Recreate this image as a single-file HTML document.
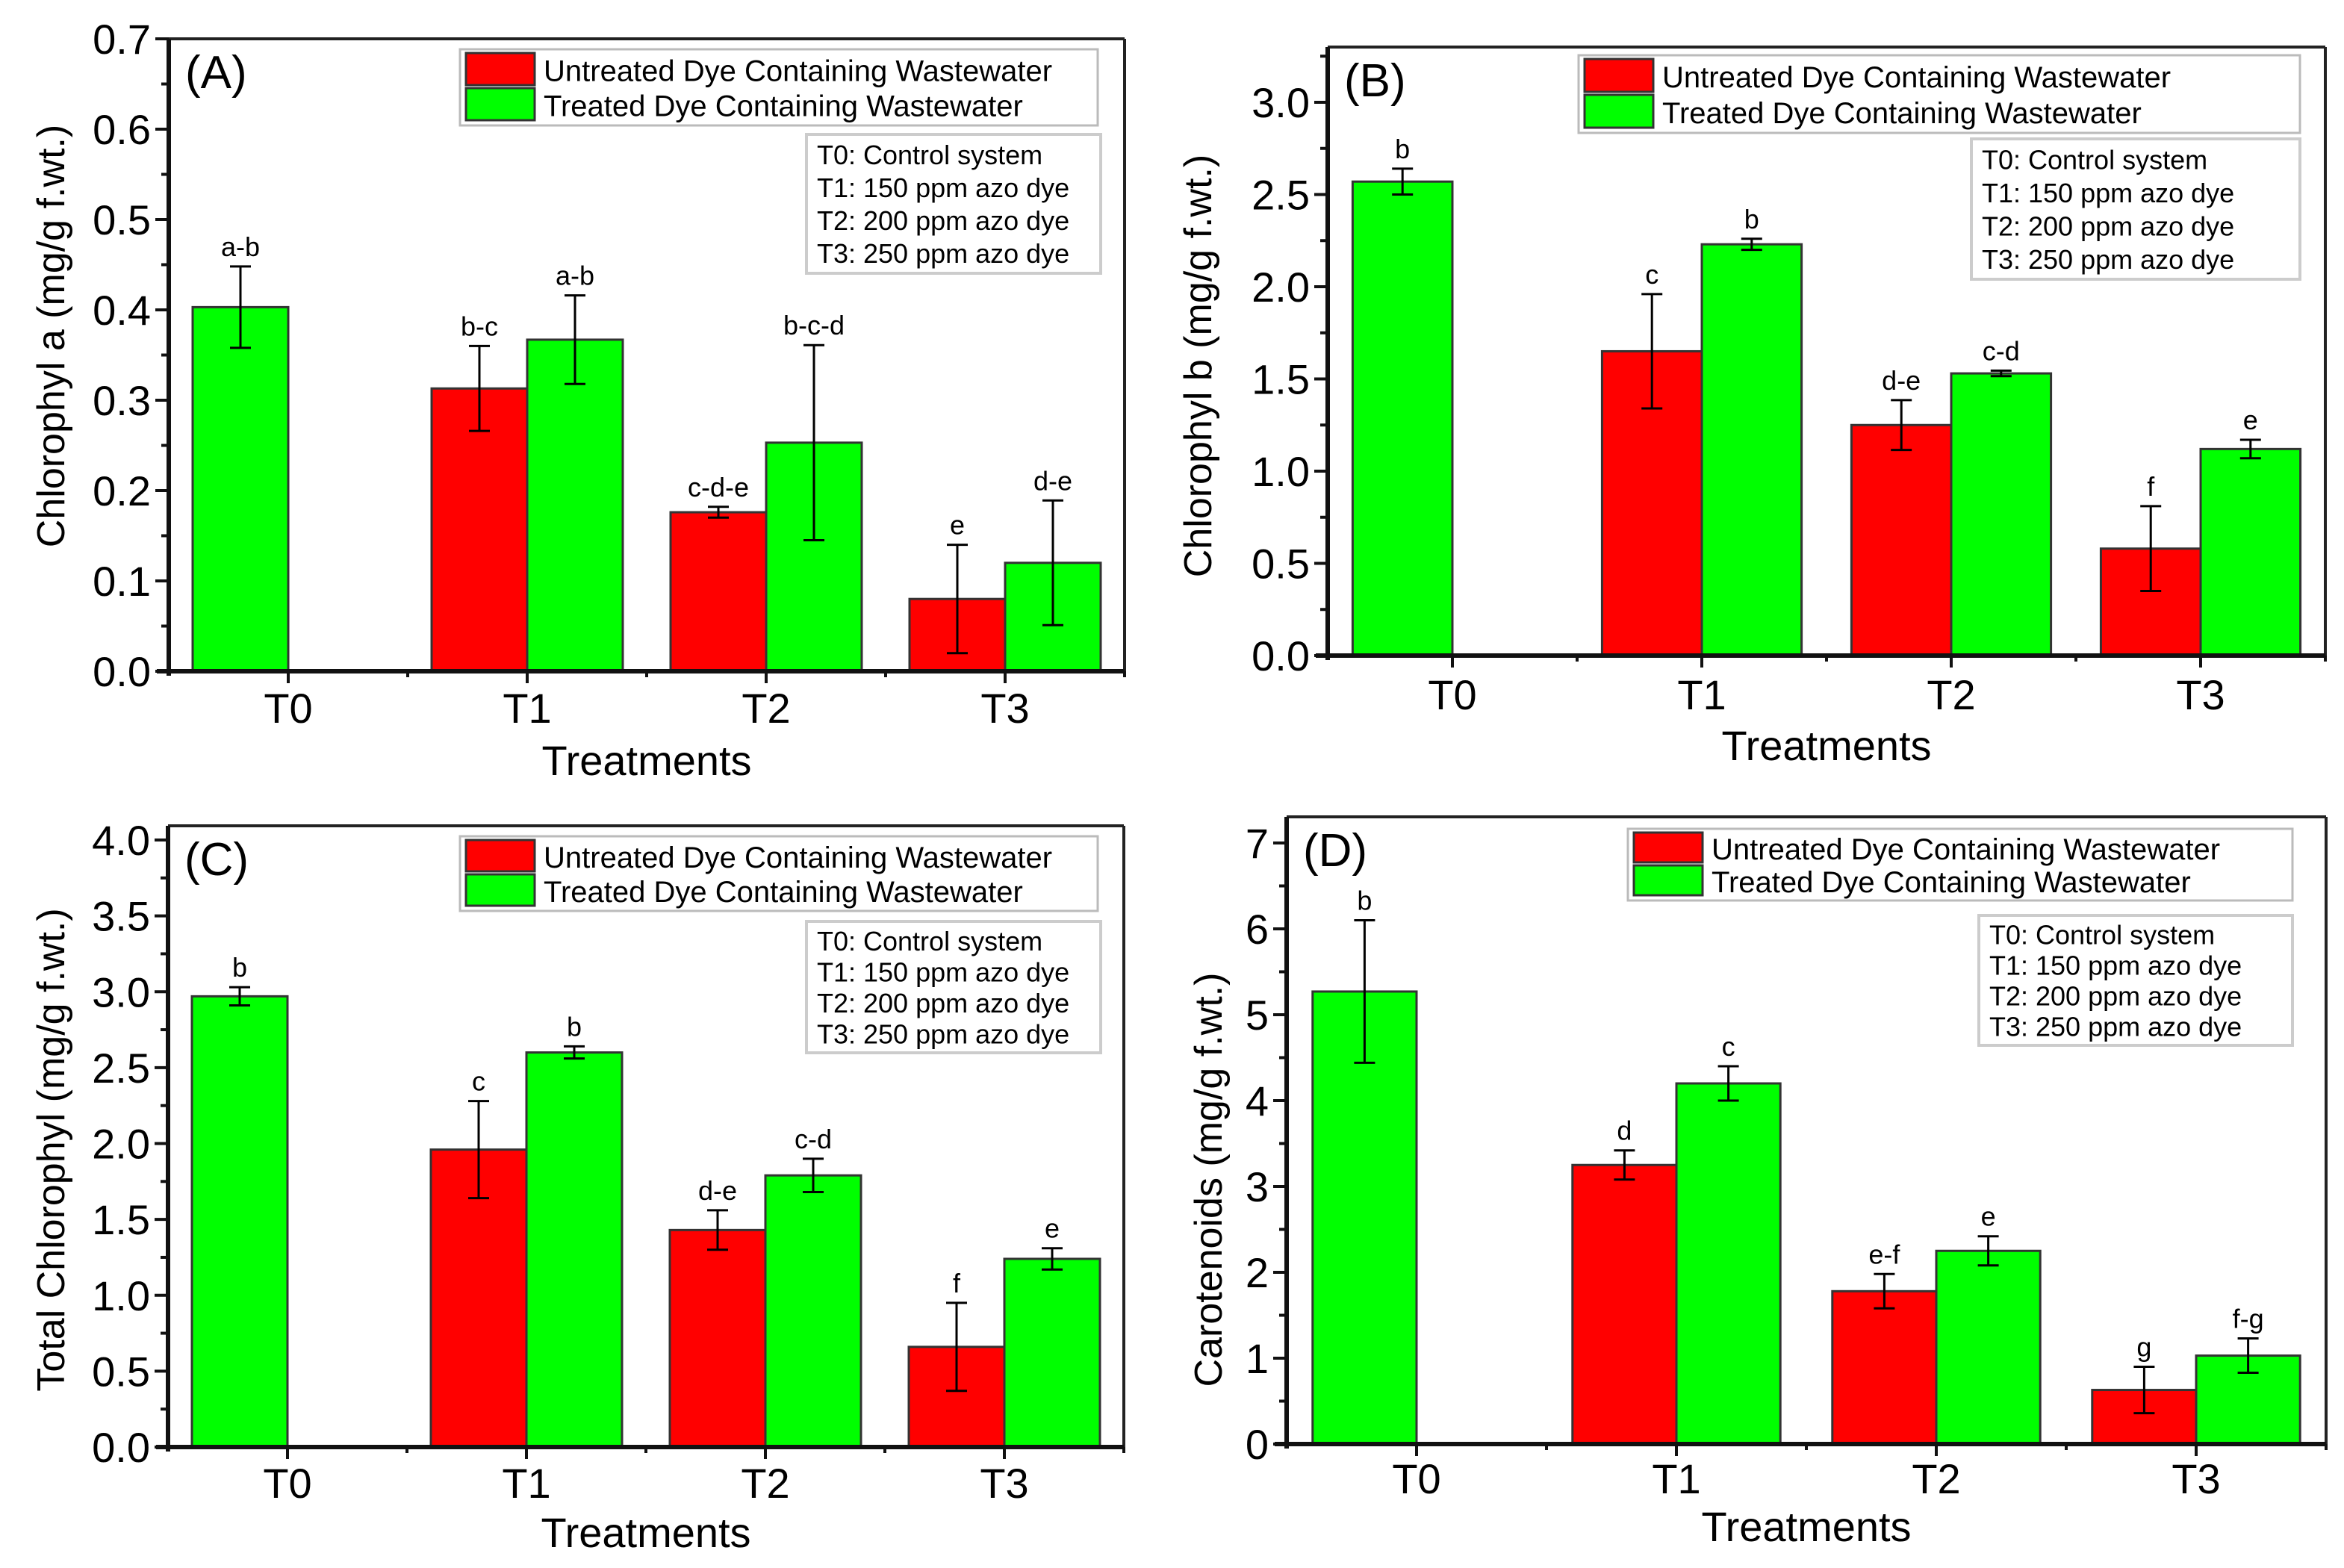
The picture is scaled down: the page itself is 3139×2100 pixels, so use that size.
<!DOCTYPE html>
<html><head><meta charset="utf-8"><style>
html,body{margin:0;padding:0;background:#fff}
svg{display:block;font-family:"Liberation Sans",Arial,sans-serif}
</style></head><body>
<svg id="fig" width="3139" height="2100" viewBox="0 0 3139 2100" xmlns="http://www.w3.org/2000/svg"></svg>
<script>
const categories = ["T0","T1","T2","T3"];
// Panel A: Chlorophyll a
const aUntreated = [null,0.313,0.176,0.080];
const aUntreatedErr = [null,0.047,0.006,0.060];
const aTreated = [0.403,0.367,0.253,0.120];
const aTreatedErr = [0.045,0.049,0.108,0.069];
const aLettersU = ["","b-c","c-d-e","e"];
const aLettersT = ["a-b","a-b","b-c-d","d-e"];
const aTicks = ["0.0","0.1","0.2","0.3","0.4","0.5","0.6","0.7"];
// Panel B: Chlorophyll b
const bUntreated = [null,1.65,1.25,0.58];
const bUntreatedErr = [null,0.31,0.135,0.23];
const bTreated = [2.57,2.23,1.53,1.12];
const bTreatedErr = [0.07,0.03,0.015,0.05];
const bLettersU = ["","c","d-e","f"];
const bLettersT = ["b","b","c-d","e"];
const bTicks = ["0.0","0.5","1.0","1.5","2.0","2.5","3.0"];
// Panel C: Total chlorophyll
const cUntreated = [null,1.96,1.43,0.66];
const cUntreatedErr = [null,0.32,0.13,0.29];
const cTreated = [2.97,2.60,1.79,1.24];
const cTreatedErr = [0.06,0.04,0.11,0.07];
const cLettersU = ["","c","d-e","f"];
const cLettersT = ["b","b","c-d","e"];
const cTicks = ["0.0","0.5","1.0","1.5","2.0","2.5","3.0","3.5","4.0"];
// Panel D: Carotenoids
const dUntreated = [null,3.25,1.78,0.63];
const dUntreatedErr = [null,0.17,0.20,0.27];
const dTreated = [5.27,4.20,2.25,1.03];
const dTreatedErr = [0.83,0.20,0.17,0.20];
const dLettersU = ["","d","e-f","g"];
const dLettersT = ["b","c","e","f-g"];
const dTicks = ["0","1","2","3","4","5","6","7"];

const NS="http://www.w3.org/2000/svg";
const fig=document.getElementById('fig');
function mk(tag,attrs,parent,text){const e=document.createElementNS(NS,tag);for(const k in attrs)e.setAttribute(k,attrs[k]);if(text!==undefined)e.textContent=text;(parent||fig).appendChild(e);return e;}

function panel(cfg){
  const g=mk('g',{});
  
  
  const tickVals=cfg.ticks.map(Number);
  const tmax=tickVals[tickVals.length-1];
  const y=v=>cfg.y0-(v/tmax)*(cfg.y0-cfg.yTopTick);
  const sp=cfg.spacing;
  const x=i=>cfg.x0cat+i*sp;
  const bw=0.4*sp;
  const left=cfg.x0cat-sp/2, right=cfg.x0cat+3.5*sp;
  // bars
  for(let i=0;i<categories.length;i++){
    if(cfg.unt[i]!==null){
      const r=mk('rect',{x:x(i)-bw,y:y(cfg.unt[i]),width:bw,height:cfg.y0-y(cfg.unt[i]),fill:'#ff0000',stroke:'#333',"stroke-width":3},g);
      
      
    }
    const tx=(i===0)?x(i)-bw:x(i);
    const r2=mk('rect',{x:tx,y:y(cfg.trt[i]),width:bw,height:cfg.y0-y(cfg.trt[i]),fill:'#00ff00',stroke:'#333',"stroke-width":3},g);
    
    
  }
  // error bars & letters
  function err(cx,v,e,letter){
    const top=y(v+e),bot=y(v-e);
    mk('line',{x1:cx,x2:cx,y1:top,y2:bot,stroke:'#000',"stroke-width":3},g);
    mk('line',{x1:cx-14,x2:cx+14,y1:top,y2:top,stroke:'#000',"stroke-width":3},g);
    mk('line',{x1:cx-14,x2:cx+14,y1:bot,y2:bot,stroke:'#000',"stroke-width":3},g);
    const t=mk('text',{x:cx,y:top-14,"font-size":36,"text-anchor":"middle",fill:'#000'},g,letter);
    
    
  }
  for(let i=0;i<categories.length;i++){
    if(cfg.unt[i]!==null) err(x(i)-bw/2,cfg.unt[i],cfg.uErr[i],cfg.lu[i]);
    const cx=(i===0)?x(i)-bw/2:x(i)+bw/2;
    err(cx,cfg.trt[i],cfg.tErr[i],cfg.lt[i]);
  }
  // frame
  mk('line',{x1:left,x2:right,y1:cfg.top,y2:cfg.top,stroke:'#222',"stroke-width":4},g);
  mk('line',{x1:right,x2:right,y1:cfg.top,y2:cfg.y0,stroke:'#222',"stroke-width":4},g);
  const ya=mk('line',{x1:left,x2:left,y1:cfg.top,y2:cfg.y0+6,stroke:'#111',"stroke-width":6},g);
  
  const xa=mk('line',{x1:left-16,x2:right,y1:cfg.y0,y2:cfg.y0,stroke:'#111',"stroke-width":6},g);
  
  // y ticks
  const step=tickVals[1]-tickVals[0];
  cfg.ticks.forEach((lab,k)=>{
    const v=tickVals[k];const yy=y(v);
    mk('line',{x1:left-18,x2:left,y1:yy,y2:yy,stroke:'#111',"stroke-width":4},g);
    const t=mk('text',{x:left-24,y:yy+20,"font-size":56,"text-anchor":"end",fill:'#000'},g,lab);
    
    const mv=v+step/2;
    if(mv<tmax+step*0.6 && y(mv)>cfg.top){const my=y(mv);mk('line',{x1:left-10,x2:left,y1:my,y2:my,stroke:'#111',"stroke-width":4},g);}
  });
  // x ticks
  for(let i=0;i<categories.length;i++){
    mk('line',{x1:x(i),x2:x(i),y1:cfg.y0,y2:cfg.y0+16,stroke:'#111',"stroke-width":4},g);
    mk('line',{x1:x(i)+sp/2,x2:x(i)+sp/2,y1:cfg.y0,y2:cfg.y0+8,stroke:'#111',"stroke-width":4},g);
    const t=mk('text',{x:x(i),y:cfg.xLabY,"font-size":56,"text-anchor":"middle",fill:'#000'},g,categories[i]);
    
  }
  const xt=mk('text',{x:(left+right)/2,y:cfg.xTitleY,"font-size":56,"text-anchor":"middle",fill:'#000'},g,'Treatments');
  
  const yt=mk('text',{x:0,y:0,"font-size":52,"text-anchor":"middle",fill:'#000',transform:`translate(${cfg.yTitleX},${cfg.yTitleY}) rotate(-90)`},g,cfg.ytitle);
  
  const pl=mk('text',{x:left+22,y:cfg.top+66,"font-size":62,fill:'#000'},g,cfg.label);
  
  // legend
  const L=cfg.leg;
  const lg=mk('g',{},g);
  
  mk('rect',{x:L[0],y:L[1],width:L[2]-L[0],height:L[3]-L[1],fill:'#fff',stroke:'#bbb',"stroke-width":3},lg);
  const rh=(L[3]-L[1]-8)/2;
  mk('rect',{x:L[0]+8,y:L[1]+5,width:92,height:rh-4,fill:'#ff0000',stroke:'#333',"stroke-width":3},lg);
  mk('rect',{x:L[0]+8,y:L[1]+5+rh,width:92,height:rh-4,fill:'#00ff00',stroke:'#333',"stroke-width":3},lg);
  const e1=mk('text',{x:L[0]+112,y:L[1]+rh*0.5+19,"font-size":40,fill:'#000'},lg,'Untreated Dye Containing Wastewater');
  
  const e2=mk('text',{x:L[0]+112,y:L[1]+rh*1.5+19,"font-size":40,fill:'#000'},lg,'Treated Dye Containing Wastewater');
  
  const K=cfg.key;
  const kg=mk('g',{},g);
  
  mk('rect',{x:K[0],y:K[1],width:K[2]-K[0],height:K[3]-K[1],fill:'#fff',stroke:'#ccc',"stroke-width":4},kg);
  const lines=['T0: Control system','T1: 150 ppm azo dye','T2: 200 ppm azo dye','T3: 250 ppm azo dye'];
  const lh=(K[3]-K[1]-10)/4;
  lines.forEach((s,k)=>mk('text',{x:K[0]+14,y:K[1]+5+lh*(k+0.5)+13,"font-size":36,fill:'#000'},kg,s));
}

panel({name:'panel-a',label:'(A)',ytitle:'Chlorophyl a (mg/g f.wt.)',ticks:aTicks,unt:aUntreated,uErr:aUntreatedErr,trt:aTreated,tErr:aTreatedErr,lu:aLettersU,lt:aLettersT,
  y0:899,yTopTick:52,top:52,x0cat:386,spacing:320,xLabY:968,xTitleY:1038,yTitleX:86,yTitleY:450,leg:[616,66,1470,168],key:[1080,180,1474,366]});
panel({name:'panel-b',label:'(B)',ytitle:'Chlorophyl b (mg/g f.wt.)',ticks:bTicks,unt:bUntreated,uErr:bUntreatedErr,trt:bTreated,tErr:bTreatedErr,lu:bLettersU,lt:bLettersT,
  y0:878,yTopTick:137,top:63,x0cat:1945,spacing:334,xLabY:950,xTitleY:1018,yTitleX:1622,yTitleY:490,leg:[2114,74,3080,178],key:[2640,186,3080,374]});
panel({name:'panel-c',label:'(C)',ytitle:'Total Chlorophyl (mg/g f.wt.)',ticks:cTicks,unt:cUntreated,uErr:cUntreatedErr,trt:cTreated,tErr:cTreatedErr,lu:cLettersU,lt:cLettersT,
  y0:1938,yTopTick:1125,top:1106,x0cat:385,spacing:320,xLabY:2006,xTitleY:2072,yTitleX:86,yTitleY:1540,leg:[616,1120,1470,1220],key:[1080,1234,1474,1410]});
panel({name:'panel-d',label:'(D)',ytitle:'Carotenoids (mg/g f.wt.)',ticks:dTicks,unt:dUntreated,uErr:dUntreatedErr,trt:dTreated,tErr:dTreatedErr,lu:dLettersU,lt:dLettersT,
  y0:1934,yTopTick:1129,top:1094,x0cat:1897,spacing:348,xLabY:2000,xTitleY:2064,yTitleX:1636,yTitleY:1580,leg:[2180,1110,3070,1206],key:[2650,1226,3070,1400]});
</script>
</body></html>
